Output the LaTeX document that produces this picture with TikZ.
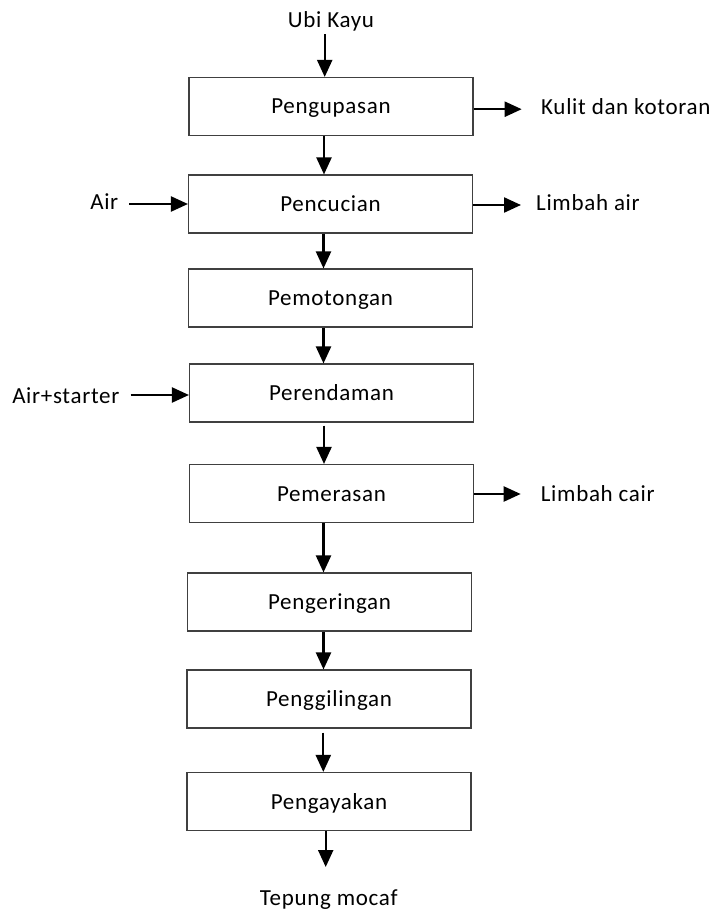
\documentclass[tikz,border=0pt]{standalone}
\usepackage{fontspec}
\setmainfont{Carlito}[LetterSpace=3]
\usetikzlibrary{arrows.meta}
\begin{document}
\begin{tikzpicture}[x=1pt,y=-1pt,
  txt/.style={font=\fontsize{23}{27}\selectfont, text height=15pt, text depth=0pt, inner sep=0pt},
  procbox/.style={txt, draw=black!75, line width=1.1pt, minimum width=284pt, minimum height=58pt},
  arr/.style={line width=2.2pt, -{Triangle[length=17pt,width=15pt]}}]
\useasboundingbox (0,0) rectangle (717,912);
% process boxes
\node[procbox] (b1) at (331,106.5) {Pengupasan};
\node[procbox] (b2) at (330.5,204) {Pencucian};
\node[procbox] (b3) at (330.5,298) {Pemotongan};
\node[procbox] (b4) at (331.5,393) {Perendaman};
\node[procbox] (b5) at (331.5,493.5) {Pemerasan};
\node[procbox] (b6) at (329.5,602) {Pengeringan};
\node[procbox] (b7) at (329,699) {Penggilingan};
\node[procbox] (b8) at (329,801.5) {Pengayakan};
% labels
\node[txt] (ubi) at (331,19.7) {Ubi Kayu};
\node[txt] (tep) at (328.7,897.7) {Tepung mocaf};
\node[txt, anchor=west] (kulit) at (541,106.8) {Kulit dan kotoran};
\node[txt, anchor=west] (lair) at (536,203) {Limbah air};
\node[txt, anchor=west] (lcair) at (540.7,494) {Limbah cair};
\node[txt] (air) at (104.3,202) {Air};
\node[txt] (ast) at (65.8,395.8) {Air+starter};
% vertical flow
\draw[arr, shorten <=7pt] ([xshift=-6.3pt]ubi.south) -- ([xshift=-6.3pt]ubi.south |- b1.north);
\draw[arr] ([xshift=-7pt]b1.south) -- ([xshift=-7pt]b1.south |- b2.north);
\draw[arr] ([xshift=-7pt]b2.south) -- ([xshift=-7pt]b2.south |- b3.north);
\draw[arr] ([xshift=-7pt]b3.south) -- ([xshift=-7pt]b3.south |- b4.north);
\draw[arr, shorten <=3pt] ([xshift=-7.5pt]b4.south) -- ([xshift=-7.5pt]b4.south |- b5.north);
\draw[arr] ([xshift=-8pt]b5.south) -- ([xshift=-8pt]b5.south |- b6.north);
\draw[arr] ([xshift=-6pt]b6.south) -- ([xshift=-6pt]b6.south |- b7.north);
\draw[arr, shorten <=4pt] ([xshift=-5.7pt]b7.south) -- ([xshift=-5.7pt]b7.south |- b8.north);
\draw[arr, shorten >=23pt] ([xshift=-3.3pt]b8.south) -- ([xshift=-3.3pt]b8.south |- tep.north);
% side outputs
\draw[arr, shorten >=19.3pt] ([yshift=-2.7pt]b1.east) -- ([yshift=-2.7pt]b1.east -| kulit.west);
\draw[arr, shorten >=15pt] ([yshift=-1pt]b2.east) -- ([yshift=-1pt]b2.east -| lair.west);
\draw[arr, shorten >=20pt] ([yshift=-0.5pt]b5.east) -- ([yshift=-0.5pt]b5.east -| lcair.west);
% side inputs
\draw[arr, shorten <=11pt] (b2.west -| air.east) -- (b2.west);
\draw[arr, shorten <=11pt] ([yshift=-2pt]b4.west -| ast.east) -- ([yshift=-2pt]b4.west);
\end{tikzpicture}
\end{document}
